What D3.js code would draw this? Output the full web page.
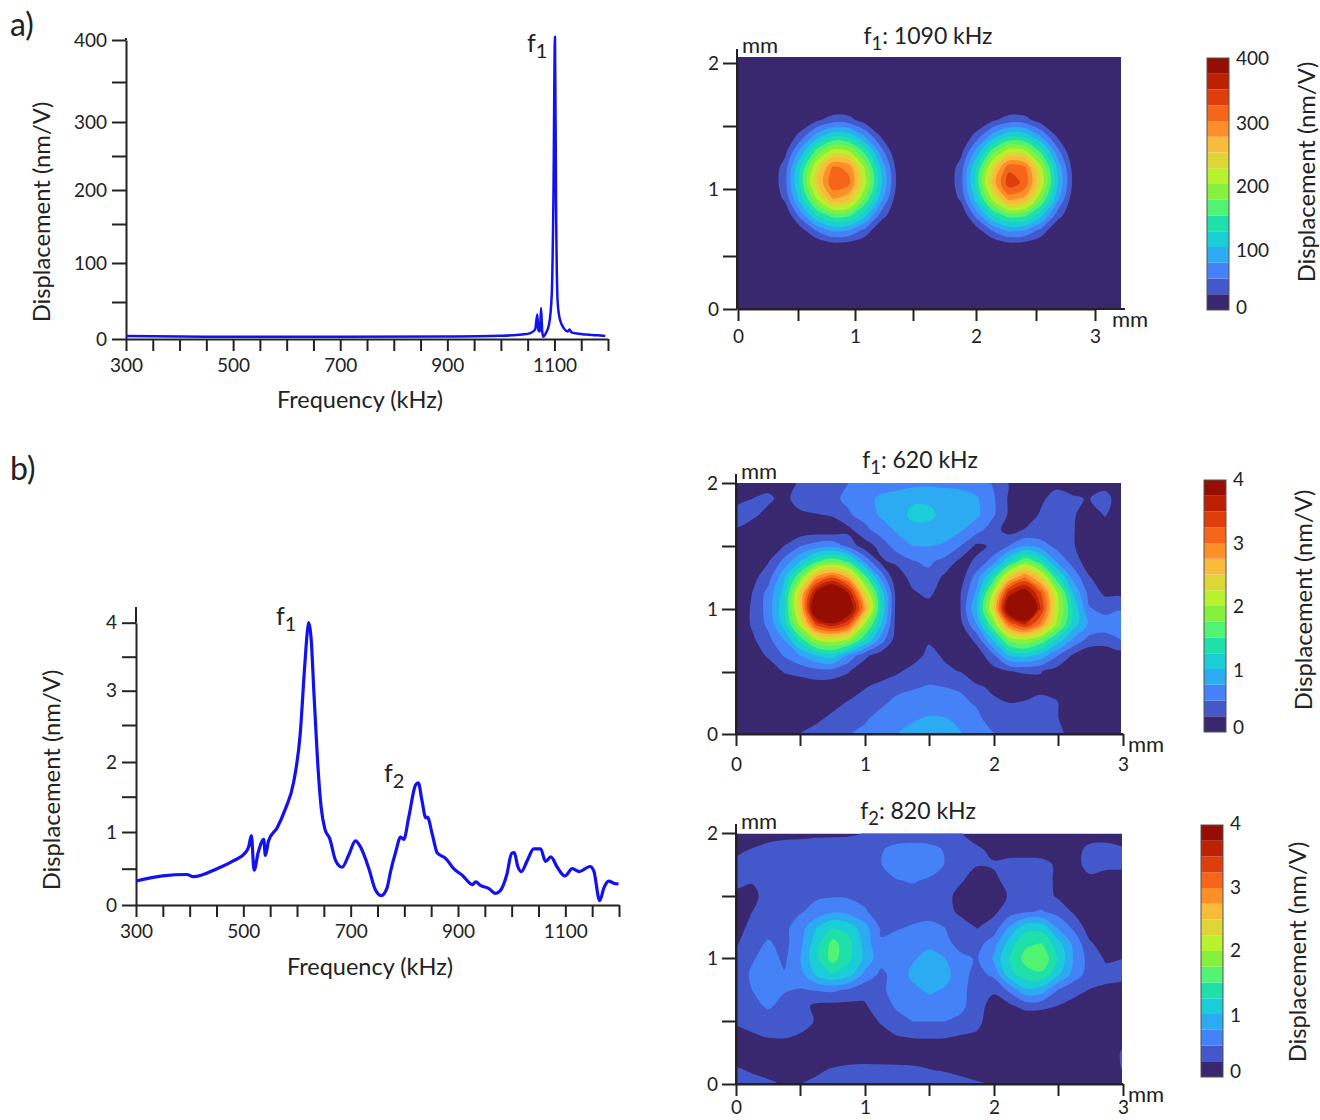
<!DOCTYPE html>
<html>
<head>
<meta charset="utf-8">
<script src="https://cdnjs.cloudflare.com/ajax/libs/d3/7.8.5/d3.min.js"></script>
<style>
  html, body { margin: 0; background: #fff; }
  text { font-family: Lato, "Open Sans", sans-serif; fill: #222; }
  .axis path, .axis line { stroke: #222; stroke-width: 2px; }
  .axis text { font-size: 19px; font-family: Lato, "Open Sans", sans-serif; fill: #222; }
</style>
</head>
<body>
<div id="graph"></div>
<script>
// spectrum a)
var freqA = [300, 400, 500, 700, 900, 1000, 1020, 1040, 1055, 1064, 1068, 1070, 1073, 1075, 1077, 1079, 1084, 1090, 1095, 1098, 1101, 1103, 1106, 1110, 1118, 1125, 1128, 1132, 1145, 1160, 1180, 1195];
var dispA = [4, 3.5, 3, 3, 3.5, 4.5, 5, 6, 8, 13, 33, 12, 10, 42, 12, 3, 8, 20, 60, 180, 404, 180, 50, 27, 14, 10, 13, 9, 7, 6, 5, 4];

// spectrum b)
var freqB = [300, 350, 395, 407, 451, 482, 504, 510, 515, 520, 528, 538, 541, 547, 563, 578, 594, 606, 614, 620, 622, 626, 632, 640, 645, 652, 661, 672, 684, 696, 709, 718, 734, 746, 757, 768, 774, 784, 793, 799, 808, 821, 826, 833, 840, 843, 852, 861, 868, 877, 892, 908, 927, 933, 942, 957, 970, 978, 991, 1000, 1005, 1011, 1018, 1029, 1041, 1054, 1063, 1073, 1085, 1099, 1113, 1126, 1146, 1153, 1164, 1172, 1181, 1190, 1199];
var dispB = [.33, .40, .42, .39, .50, .61, .72, .80, .95, .48, .73, .90, .68, .88, 1.06, 1.32, 1.72, 2.38, 3.32, 3.92, 4.0, 3.8, 2.9, 1.82, 1.35, 1.04, .91, .61, .52, .68, .88, .80, .50, .21, .13, .24, .45, .73, .93, .90, 1.20, 1.67, 1.70, 1.44, 1.20, 1.21, .97, .72, .68, .64, .50, .41, .28, .32, .27, .23, .16, .19, .42, .71, .72, .54, .46, .61, .77, .77, .60, .66, .52, .40, .50, .46, .53, .47, .06, .24, .33, .30, .29];

var freqTicks = [300, 500, 700, 900, 1100];
var freqMinor = d3.range(300, 1201, 50);

// contour colours, low to high
var bandColors = ["#392870", "#4358CA", "#4582F8", "#2CABF2", "#1BCDD6", "#1FE0A8", "#52F272", "#86F03F", "#B8F22E", "#DDD636", "#F9BB3B", "#FC8F28", "#F5651A", "#DE3E0B", "#BC2104", "#950E01"];

// f1: 1090 kHz, nm/V, top row first
var mapA = [
  [0,0,0,0,0,0,0,0,0,0,0,0,0,0,0,0,0,0,0,0,0,0,0,0,0],
  [0,0,0,0,0,0,0,0,0,0,0,0,0,0,0,0,0,0,0,0,0,0,0,0,0],
  [0,0,0,0,0,0,0,0,0,0,0,0,0,0,0,0,0,0,0,0,0,0,0,0,0],
  [0,0,0,0,0,0,0,0,0,0,0,0,0,0,0,0,0,0,0,0,0,0,0,0,0],
  [0,0,0,0,0,21,37,34,12,0,0,0,0,0,0,0,21,37,34,12,0,0,0,0,0],
  [0,0,0,0,36,86,120,114,72,21,0,0,0,0,0,36,86,120,114,72,21,0,0,0,0],
  [0,0,0,17,86,161,214,203,142,62,0,0,0,0,17,86,165,218,208,145,62,0,0,0,0],
  [0,0,0,37,127,227,305,292,194,97,15,0,0,0,37,127,235,318,305,205,97,15,0,0,0],
  [0,0,0,42,137,248,320,308,209,106,20,0,0,0,42,137,262,340,318,222,106,20,0,0,0],
  [0,0,0,30,113,201,276,257,170,85,9,0,0,0,30,113,210,285,268,178,85,9,0,0,0],
  [0,0,0,3,64,131,166,159,112,41,0,0,0,0,3,64,131,166,159,112,41,0,0,0,0],
  [0,0,0,0,15,53,81,75,42,0,0,0,0,0,0,15,53,81,75,42,0,0,0,0,0],
  [0,0,0,0,0,0,9,6,0,0,0,0,0,0,0,0,0,9,6,0,0,0,0,0,0],
  [0,0,0,0,0,0,0,0,0,0,0,0,0,0,0,0,0,0,0,0,0,0,0,0,0],
  [0,0,0,0,0,0,0,0,0,0,0,0,0,0,0,0,0,0,0,0,0,0,0,0,0],
  [0,0,0,0,0,0,0,0,0,0,0,0,0,0,0,0,0,0,0,0,0,0,0,0,0],
  [0,0,0,0,0,0,0,0,0,0,0,0,0,0,0,0,0,0,0,0,0,0,0,0,0]
];

// f1: 620 kHz
var mapB1 = [
  [.05,.08,.12,.15,.28,.36,.42,.5,.56,.6,.62,.68,.7,.68,.66,.62,.48,.24,.1,.05,.17,.18,.1,.15,.05],
  [.15,.25,.32,.14,.42,.42,.45,.55,.65,.8,.88,.93,.93,.9,.88,.78,.55,.22,.08,.2,.36,.27,.24,.35,.1],
  [.37,.33,.15,.05,.18,.24,.28,.47,.6,.78,.82,1.1,1.1,.88,.85,.8,.55,.22,.08,.28,.4,.3,.05,.28,.05],
  [.22,.08,0,.03,.08,.1,.08,.18,.42,.62,.78,.87,.87,.85,.78,.6,.36,.15,.27,.3,.32,.28,.02,.05,.02],
  [.05,.02,.1,.25,.48,.62,.68,.42,.12,.33,.62,.75,.76,.72,.5,.2,.28,.5,.72,.62,.42,.28,.05,.02,0],
  [0,.08,.23,.58,1.0,1.47,1.7,1.45,.72,.2,.32,.48,.55,.42,.18,.28,.62,1.2,1.75,1.35,.72,.4,.1,.03,0],
  [0,.17,.38,.95,1.75,2.8,3.2,2.7,1.65,.7,.03,.38,.42,.2,.12,.62,1.3,2.45,3.0,2.4,1.35,.68,.27,.1,.05],
  [.03,.25,.58,1.1,2.45,3.85,4.4,3.75,2.4,1.2,.15,.2,.34,.05,.24,.8,2.0,3.6,4.0,3.25,2.05,1.0,.42,.2,.18],
  [.05,.28,.6,1.2,2.45,4.4,4.6,4.15,2.85,1.3,.15,.03,.1,.02,.25,1.0,2.3,4.2,4.7,3.5,2.1,1.25,.52,.42,.48],
  [.05,.28,.56,1.1,2.1,3.35,3.7,3.3,2.0,1.05,.15,.03,.03,.02,.18,.75,1.7,3.05,3.55,2.95,1.95,1.15,.72,.62,.62],
  [.02,.2,.42,.75,1.35,2.0,2.15,1.95,1.3,.65,.12,.1,.22,.1,.05,.32,1.0,1.8,2.0,1.7,1.2,.7,.42,.4,.5],
  [0,.12,.28,.52,.75,1.0,1.15,.7,.32,.12,.03,.12,.32,.22,.05,.1,.42,1.0,1.1,.9,.52,.22,.05,.03,.12],
  [0,.02,.1,.27,.32,.4,.4,.27,.08,.1,.2,.34,.38,.3,.24,.05,.15,.24,.28,.26,.15,.03,0,0,0],
  [0,0,.02,.08,.12,.12,.1,.1,.23,.33,.43,.47,.52,.5,.47,.3,.2,.05,.1,.2,.12,.02,0,0,0],
  [0,0,0,0,.02,.05,.17,.27,.35,.45,.56,.62,.65,.62,.55,.47,.3,.25,.27,.3,.27,.05,0,0,0],
  [0,0,0,0,.02,.2,.3,.35,.46,.58,.65,.72,.77,.76,.71,.56,.38,.32,.3,.3,.27,.08,0,0,0],
  [0,0,0,0,.26,.34,.42,.48,.56,.65,.74,.82,.88,.84,.76,.6,.52,.42,.38,.32,.3,.18,.1,.05,.03]
];

// f2: 820 kHz
var mapB2 = [
  [.05,.1,.15,.17,.18,.2,.21,.22,.26,.3,.3,.3,.3,.3,.26,.15,.15,.1,.1,.08,.1,.12,.15,.15,.15],
  [.2,.26,.32,.36,.37,.38,.38,.38,.4,.47,.6,.64,.6,.47,.33,.28,.2,.12,.1,.1,.12,.18,.3,.32,.27],
  [.3,.36,.4,.42,.42,.42,.42,.42,.44,.49,.62,.68,.62,.49,.35,.26,.27,.35,.37,.35,.2,.18,.32,.3,.3],
  [.3,.27,.4,.42,.42,.42,.44,.46,.47,.48,.49,.52,.47,.38,.27,.15,.2,.32,.38,.36,.2,.08,.2,.15,.12],
  [.2,.18,.35,.42,.45,.47,.48,.47,.45,.42,.42,.42,.4,.32,.17,.05,.08,.28,.4,.36,.22,.08,.03,.03,.02],
  [.1,.25,.37,.43,.48,.58,.72,.66,.52,.42,.42,.42,.42,.33,.2,.05,.2,.38,.48,.52,.42,.22,.05,0,0],
  [.18,.3,.4,.44,.62,1.0,1.25,1.15,.85,.47,.48,.52,.56,.5,.35,.24,.35,.78,1.15,1.15,.72,.45,.12,.03,.02],
  [.22,.4,.53,.42,.68,1.15,1.58,1.35,.9,.52,.58,.65,.68,.56,.42,.4,.62,1.1,1.45,1.5,1.1,.68,.28,.12,.12],
  [.33,.47,.62,.45,.75,1.2,1.6,1.3,.95,.58,.6,.72,.85,.76,.55,.48,.78,1.27,1.58,1.7,1.26,.72,.4,.22,.25],
  [.3,.55,.66,.52,.65,1.05,1.25,1.1,.68,.45,.58,.82,.95,.85,.58,.42,.55,1.15,1.4,1.45,1.05,.65,.38,.33,.3],
  [.28,.5,.62,.52,.48,.52,.55,.46,.33,.45,.6,.68,.8,.72,.58,.36,.3,.55,.95,.88,.5,.32,.24,.2,.18],
  [.28,.42,.54,.42,.33,.2,.18,.18,.22,.4,.53,.6,.62,.62,.55,.38,.12,.2,.35,.33,.25,.18,.1,.05,.05],
  [.28,.32,.37,.34,.34,.23,.1,.08,.1,.28,.43,.5,.5,.5,.45,.32,.1,.05,.02,.02,.02,.02,.02,.02,.02],
  [.15,.22,.26,.27,.22,.12,.03,.02,.05,.12,.23,.27,.28,.27,.22,.2,.03,0,0,0,0,0,0,.02,.1],
  [.05,.05,.05,.05,.03,.02,.02,.02,.02,.02,.02,.02,.02,.02,.02,.02,.02,0,0,0,0,0,0,.05,.28],
  [.27,.2,.1,.1,.1,.2,.26,.32,.34,.33,.32,.3,.24,.22,.18,.12,.05,0,0,0,0,0,0,.05,.26],
  [.38,.35,.32,.2,.24,.3,.38,.42,.47,.49,.48,.45,.4,.35,.32,.28,.22,.1,0,0,0,0,0,.02,.05]
];

var svg = d3.select("#graph").append("svg")
    .attr("width", 1320)
    .attr("height", 1120);

var clipCount = 0;

function addLabel(x, y, parts, size, anchor) {
  // parts: [main, sub, rest] so the subscripts stay real text
  var t = svg.append("text")
      .attr("x", x)
      .attr("y", y)
      .style("font-size", size + "px")
      .style("text-anchor", anchor || "start");
  t.append("tspan").text(parts[0]);
  if (parts[1]) {
    t.append("tspan").attr("dy", size * 0.25).style("font-size", (size * 0.8) + "px").text(parts[1]);
    if (parts[2]) t.append("tspan").attr("dy", -size * 0.25).text(parts[2]);
  }
  return t;
}

function addTitleY(x, y, size) {
  svg.append("text")
      .attr("transform", "translate(" + x + "," + y + ") rotate(-90)")
      .style("font-size", size + "px")
      .style("text-anchor", "middle")
      .text("Displacement (nm/V)");
}

function drawSpectrum(o) {
  var x = d3.scaleLinear().domain([300, 1200]).range(o.xRange);
  var y = d3.scaleLinear().domain(o.yDomain).range(o.yRange);

  svg.append("g")
      .attr("class", "axis")
      .attr("transform", "translate(0," + o.yRange[0] + ")")
      .call(d3.axisBottom(x).tickValues(freqMinor).tickSize(12).tickSizeOuter(0).tickPadding(o.xPad)
        .tickFormat(function(d) { return freqTicks.indexOf(d) >= 0 ? d : ""; }));

  var yAxis = svg.append("g")
      .attr("class", "axis")
      .attr("transform", "translate(" + o.xRange[0] + ",0)")
      .call(d3.axisLeft(y).tickValues(o.yDomain).tickSize(14).tickSizeOuter(0).tickPadding(5)
        .tickFormat(function(d) { return o.yLabels.indexOf(d) >= 0 ? d : ""; }));

  yAxis.append("line")
      .attr("y1", o.yTop)
      .attr("y2", o.yRange[o.yRange.length - 1]);

  var line = d3.line()
      .x(function(d) { return x(d[0]); })
      .y(function(d) { return y(d[1]); })
      .curve(d3.curveMonotoneX);

  svg.append("path")
      .datum(d3.zip(o.freq, o.disp))
      .attr("fill", "none")
      .attr("stroke", "#1212f0")
      .attr("stroke-width", o.lineWidth)
      .attr("stroke-linejoin", "round")
      .attr("d", line);
}

function drawMap(o) {
  var rows = o.values.length, cols = o.values[0].length;
  var flat = d3.merge(o.values);
  var gridX = d3.scaleLinear().domain([0.5, cols - 0.5]).range([o.left, o.right]);
  var gridY = d3.scaleLinear().domain([0.5, rows - 0.5]).range([o.top, o.bottom]);
  var id = "clip" + (clipCount++);

  svg.append("clipPath").attr("id", id).append("rect")
      .attr("x", o.left).attr("y", o.top)
      .attr("width", o.right - o.left).attr("height", o.bottom - o.top);

  var g = svg.append("g").attr("clip-path", "url(#" + id + ")");

  g.append("rect")
      .attr("x", o.left).attr("y", o.top)
      .attr("width", o.right - o.left).attr("height", o.bottom - o.top)
      .attr("fill", bandColors[0]);

  var ring = d3.line()
      .x(function(d) { return gridX(d[0]); })
      .y(function(d) { return gridY(d[1]); })
      .curve(d3.curveCatmullRomClosed.alpha(0.5));

  var thresholds = bandColors.map(function(c, i) { return i * o.step; }).slice(1);
  var contours = d3.contours().size([cols, rows]).thresholds(thresholds)(flat);

  contours.forEach(function(c, i) {
    var d = "";
    c.coordinates.forEach(function(poly) {
      poly.forEach(function(r) { d += ring(r.slice(0, -1)); });
    });
    if (d) g.append("path").attr("d", d).attr("fill", bandColors[i + 1]).attr("fill-rule", "evenodd");
  });

  var xAxisScale = d3.scaleLinear().domain([0, .5, 1, 1.5, 2, 2.5, 3]).range(o.xTicks);
  var yAxisScale = d3.scaleLinear().domain([0, .5, 1, 1.5, 2]).range(o.yTicks);

  var ax = svg.append("g")
      .attr("class", "axis")
      .attr("transform", "translate(0," + o.bottom + ")")
      .call(d3.axisBottom(xAxisScale).tickValues([0, .5, 1, 1.5, 2, 2.5, 3]).tickSize(12).tickSizeOuter(0).tickPadding(o.xPad)
        .tickFormat(function(d) { return d % 1 === 0 ? d : ""; }));
  ax.append("line").attr("x1", o.xTicks[0]).attr("x2", o.axisEnd);

  var ay = svg.append("g")
      .attr("class", "axis")
      .attr("transform", "translate(" + o.left + ",0)")
      .call(d3.axisLeft(yAxisScale).tickValues([0, .5, 1, 1.5, 2]).tickSize(14).tickSizeOuter(0).tickPadding(4)
        .tickFormat(function(d) { return d % 1 === 0 ? d : ""; }));
  ay.append("line").attr("y1", o.axisTop).attr("y2", o.bottom);

  addLabel(o.titleX, o.titleY, o.title, 23, "middle");
  addLabel(o.left + 5, o.mmY, ["mm"], 22);
  addLabel(o.mmX, o.bottom + 18, ["mm"], 22);
}

function drawColorbar(o) {
  var cell = d3.scaleLinear().domain([0, bandColors.length]).range([o.bottom, o.top]);
  var g = svg.append("g");

  g.selectAll("rect.cell")
    .data(bandColors)
    .enter().append("rect")
      .attr("class", "cell")
      .attr("x", o.x)
      .attr("width", 22)
      .attr("y", function(d, i) { return cell(i + 1); })
      .attr("height", function(d, i) { return cell(i) - cell(i + 1); })
      .attr("fill", function(d) { return d; });

  g.append("rect")
      .attr("x", o.x).attr("y", o.top)
      .attr("width", 22).attr("height", o.bottom - o.top)
      .attr("fill", "none").attr("stroke", "#555").attr("stroke-width", 1);

  var labelY = d3.scaleLinear().domain(o.labels).range(o.labelPos);
  var axis = svg.append("g")
      .attr("class", "axis")
      .attr("transform", "translate(" + (o.x + 22) + ",0)")
      .call(d3.axisRight(labelY).tickValues(o.labels).tickSize(0).tickPadding(7).tickFormat(d3.format("d")));
  axis.select(".domain").remove();
}

// a)
addLabel(10, 36, ["a)"], 32);
drawSpectrum({
  freq: freqA, disp: dispA,
  xRange: [126, 608],
  yDomain: [0, 50, 100, 150, 200, 250, 300, 350, 400],
  yRange: [339, 302, 263, 224, 190, 156, 122, 82, 40],
  yLabels: [0, 100, 200, 300, 400],
  yTop: 38, xPad: 8, lineWidth: 2.5
});
svg.append("text").attr("x", 360).attr("y", 408).style("font-size", "23.5px").style("text-anchor", "middle").text("Frequency (kHz)");
addTitleY(50, 212, 23.8);
addLabel(527, 52, ["f", "1"], 25);

drawMap({
  values: mapA, step: 25,
  left: 737, right: 1121, top: 57, bottom: 309,
  xTicks: [738, 798, 855, 913, 976, 1036, 1095],
  yTicks: [309, 256, 189, 126, 63],
  axisEnd: 1125, axisTop: 49, xPad: 9,
  title: ["f", "1", ": 1090 kHz"], titleX: 928, titleY: 44,
  mmY: 53, mmX: 1112
});
drawColorbar({
  x: 1207, top: 58, bottom: 310,
  labels: [0, 100, 200, 300, 400],
  labelPos: [307, 250, 186, 123, 58]
});
addTitleY(1315, 172, 23.8);

// b)
addLabel(10, 480, ["b)"], 32);
drawSpectrum({
  freq: freqB, disp: dispB,
  xRange: [136, 619],
  yDomain: [0, .5, 1, 1.5, 2, 2.5, 3, 3.5, 4],
  yRange: [905, 868.7, 832, 796.7, 762, 725, 690.7, 656.7, 622.7],
  yLabels: [0, 1, 2, 3, 4],
  yTop: 607, xPad: 8, lineWidth: 3.2
});
svg.append("text").attr("x", 370).attr("y", 975).style("font-size", "23.5px").style("text-anchor", "middle").text("Frequency (kHz)");
addTitleY(60, 780, 23.8);
addLabel(276, 625, ["f", "1"], 25);
addLabel(384, 782, ["f", "2"], 25);

drawMap({
  values: mapB1, step: .25,
  left: 736, right: 1121, top: 483, bottom: 734,
  xTicks: [736, 800, 865, 929, 994, 1058, 1123],
  yTicks: [734, 672, 609, 546, 483],
  axisEnd: 1123, axisTop: 474, xPad: 12,
  title: ["f", "1", ": 620 kHz"], titleX: 920, titleY: 468,
  mmY: 479, mmX: 1128
});
drawColorbar({
  x: 1204, top: 480, bottom: 732,
  labels: [0, 1, 2, 3, 4],
  labelPos: [727, 670, 606, 543, 479]
});
addTitleY(1312, 600, 23.8);

drawMap({
  values: mapB2, step: .25,
  left: 736, right: 1122, top: 833.5, bottom: 1084,
  xTicks: [736, 800, 865, 929, 994, 1058, 1123],
  yTicks: [1084, 1021, 958, 896, 833],
  axisEnd: 1123, axisTop: 824, xPad: 5,
  title: ["f", "2", ": 820 kHz"], titleX: 918, titleY: 819,
  mmY: 829, mmX: 1128
});
drawColorbar({
  x: 1201, top: 825, bottom: 1077,
  labels: [0, 1, 2, 3, 4],
  labelPos: [1071, 1015, 950, 887, 823]
});
addTitleY(1306, 952, 23.8);
</script>
</body>
</html>
